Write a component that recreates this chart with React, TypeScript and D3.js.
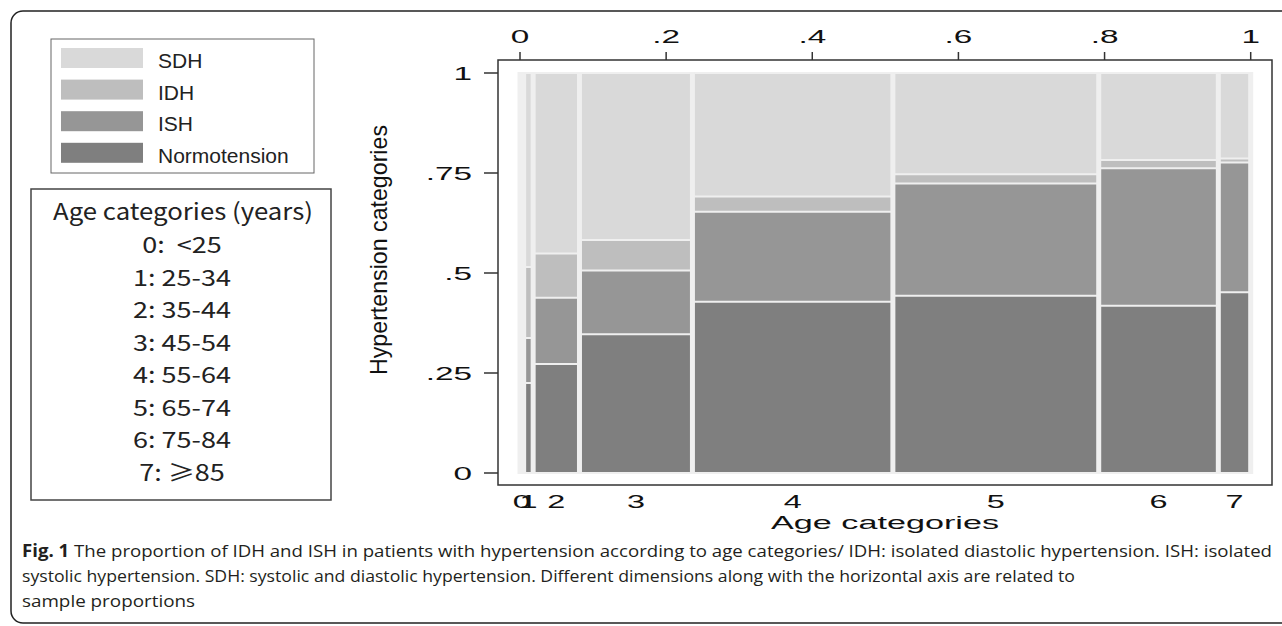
import React from 'react'
import * as d3 from 'd3'

// age categories and their share of the sample (bar widths)
const categories = ['0', '1', '2', '3', '4', '5', '6', '7']
const sampleShare = [0.005, 0.013, 0.0634, 0.1546, 0.2743, 0.2817, 0.1637, 0.0443]

// proportion of each hypertension category within an age category
const normotension = [0.3, 0.225, 0.2725, 0.347, 0.428, 0.443, 0.418, 0.452]
const ish = [0.15, 0.1125, 0.1655, 0.159, 0.225, 0.281, 0.344, 0.324]
const idh = [0.15, 0.1775, 0.111, 0.0765, 0.038, 0.023, 0.0205, 0.01]
const sdh = [0.4, 0.485, 0.451, 0.4175, 0.309, 0.253, 0.2175, 0.214]

const seriesKeys = ['Normotension', 'ISH', 'IDH', 'SDH']
const legendOrder = ['SDH', 'IDH', 'ISH', 'Normotension']
const colors = { SDH: '#d9d9d9', IDH: '#bebebe', ISH: '#969696', Normotension: '#7f7f7f' }

const xTicks = [0, 0.2, 0.4, 0.6, 0.8, 1]
const yTicks = [0, 0.25, 0.5, 0.75, 1]

const ageLegend = ['0:  <25', '1: 25-34', '2: 35-44', '3: 45-54', '4: 55-64', '5: 65-74', '6: 75-84', '7: \u226585']

const captionLines = [
  'The proportion of IDH and ISH in patients with hypertension according to age categories/ IDH: isolated diastolic hypertension. ISH: isolated',
  'systolic hypertension. SDH: systolic and diastolic hypertension. Different dimensions along with the horizontal axis are related to',
  'sample proportions',
]

const fmt = (d) => (d === 0 ? '0' : d === 1 ? '1' : String(d).replace(/^0/, ''))

const axisFont = '"Liberation Sans", Arial, sans-serif'
const cjkFont = '"Noto Sans CJK SC", "Noto Sans", sans-serif'
const captionFont = '"Liberation Sans Narrow", "Open Sans", sans-serif'
const gap = '#efefef'

export default function App() {
  const width = 1282
  const height = 626

  const frame = { left: 498, right: 1272, top: 60, bottom: 485 }
  const x = d3.scaleLinear().domain([0, 1]).range([520, 1250.7])
  const y = d3.scaleLinear().domain([0, 1]).range([473, 73])

  const rows = categories.map((c, i) => ({
    cat: c,
    Normotension: normotension[i],
    ISH: ish[i],
    IDH: idh[i],
    SDH: sdh[i],
  }))
  const stacked = d3.stack().keys(seriesKeys)(rows)

  const edges = [0, ...d3.cumsum(sampleShare)]
  const sx = 1.8

  return (
    <svg width={width} height={height} style={{ position: 'absolute', left: 0, top: 0, display: 'block', background: '#fff' }}>
      {/* outer rounded frame */}
      <path d="M 1300 11 H 23 A 12 12 0 0 0 11 23 V 611 A 12 12 0 0 0 23 623 H 1300" fill="none" stroke="#222" strokeWidth={1.5} />

      {/* colour legend */}
      <rect x={51} y={39} width={263} height={134} fill="#fff" stroke="#666" strokeWidth={1} />
      {legendOrder.map((k, i) => (
        <g key={k}>
          <rect x={61} y={48 + i * 31.6} width={82} height={20} fill={colors[k]} />
          <text x={158} y={68 + i * 31.6} fontFamily={axisFont} fontSize={21} fill="#222">{k}</text>
        </g>
      ))}

      {/* age category key */}
      <rect x={31} y={189} width={300} height={311} fill="#fff" stroke="#444" strokeWidth={1.5} />
      <g transform="translate(183,220) scale(1.12,1)">
        <text textAnchor="middle" fontFamily={cjkFont} fontSize={23} fill="#222">Age categories (years)</text>
      </g>
      {ageLegend.map((t, i) => (
        <g key={t} transform={`translate(182,${253 + i * 32.5}) scale(1.2,1)`}>
          <text textAnchor="middle" fontFamily={cjkFont} fontSize={22.5} fill="#222" style={{ whiteSpace: 'pre' }}>
            {t}
          </text>
        </g>
      ))}

      {/* plot frame */}
      <rect x={frame.left} y={frame.top} width={frame.right - frame.left} height={frame.bottom - frame.top} fill="#fff" stroke="#333" strokeWidth={1.5} />

      {/* mosaic bars */}
      {stacked.map((s) => (
        <g key={s.key} fill={colors[s.key]}>
          {s.map((d, i) => (
            <rect key={i} x={x(edges[i])} y={y(d[1])} width={x(edges[i + 1]) - x(edges[i])} height={y(d[0]) - y(d[1])} />
          ))}
        </g>
      ))}
      {/* horizontal separators inside each bar */}
      {stacked.map((s) =>
        s.map((d, i) => (
          <line key={s.key + i} x1={x(edges[i])} x2={x(edges[i + 1])} y1={y(d[1])} y2={y(d[1])} stroke={gap} strokeWidth={2} />
        ))
      )}
      {categories.map((c, i) => (
        <line key={'b' + c} x1={x(edges[i])} x2={x(edges[i + 1])} y1={y(0)} y2={y(0)} stroke={gap} strokeWidth={2} />
      ))}
      {/* vertical separators between bars */}
      {edges.map((e, i) => (
        <line key={'v' + i} x1={x(e)} x2={x(e)} y1={y(1) - 1} y2={y(0) + 1} stroke={gap} strokeWidth={5} />
      ))}

      {/* top axis */}
      {xTicks.map((t) => (
        <g key={'xt' + t}>
          <line x1={x(t)} x2={x(t)} y1={frame.top} y2={frame.top - 8} stroke="#333" strokeWidth={1.5} />
          <g transform={`translate(${x(t)},43) scale(${sx},1)`}>
            <text textAnchor="middle" fontFamily={axisFont} fontSize={18.5} fill="#111">{fmt(t)}</text>
          </g>
        </g>
      ))}

      {/* left axis */}
      {yTicks.map((t) => (
        <g key={'yt' + t}>
          <line x1={frame.left} x2={frame.left - 14} y1={y(t)} y2={y(t)} stroke="#333" strokeWidth={1.5} />
          <g transform={`translate(472,${y(t) + 6.5}) scale(${sx},1)`}>
            <text textAnchor="end" fontFamily={axisFont} fontSize={18.5} fill="#111">{fmt(t)}</text>
          </g>
        </g>
      ))}
      <g transform={`translate(387,250) rotate(-90) scale(1,1.3)`}>
        <text textAnchor="middle" fontFamily={axisFont} fontSize={18} fill="#111" textLength={250} lengthAdjust="spacingAndGlyphs">
          Hypertension categories
        </text>
      </g>

      {/* bottom category labels */}
      {categories.map((c, i) => (
        <g key={'xl' + c} transform={`translate(${x((edges[i] + edges[i + 1]) / 2)},508) scale(${sx},1)`}>
          <text textAnchor="middle" fontFamily={axisFont} fontSize={18} fill="#111">{c}</text>
        </g>
      ))}
      <g transform={`translate(${(frame.left + frame.right) / 2},529) scale(1.9,1)`}>
        <text textAnchor="middle" fontFamily={axisFont} fontSize={18} fill="#111">Age categories</text>
      </g>

      {/* caption */}
      <text x={22} y={557} fontFamily={captionFont} fontSize={17} fill="#231f20" textLength={1250} lengthAdjust="spacingAndGlyphs">
        <tspan fontWeight="bold">Fig. 1</tspan> {captionLines[0]}
      </text>
      <text x={22} y={582} fontFamily={captionFont} fontSize={17} fill="#231f20" textLength={1053} lengthAdjust="spacingAndGlyphs">
        {captionLines[1]}
      </text>
      <text x={22} y={607} fontFamily={captionFont} fontSize={17} fill="#231f20" textLength={173} lengthAdjust="spacingAndGlyphs">
        {captionLines[2]}
      </text>
    </svg>
  )
}
